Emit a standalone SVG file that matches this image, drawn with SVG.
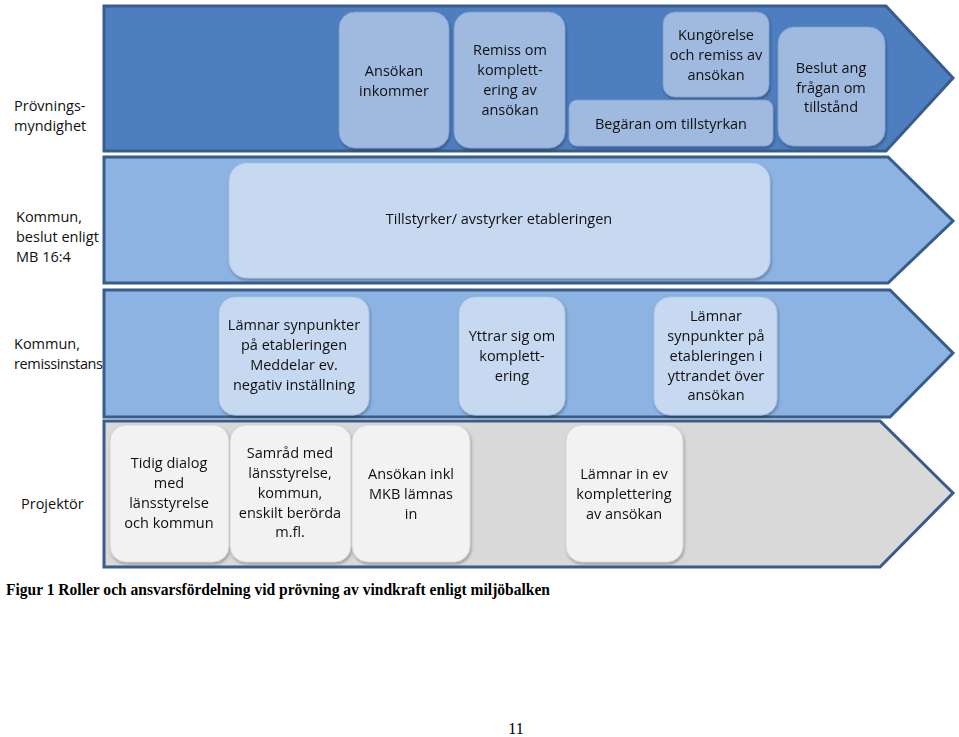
<svg xmlns="http://www.w3.org/2000/svg" width="959" height="737" viewBox="0 0 959 737">
<style>
.lane{stroke:#385d8a;stroke-width:3;stroke-linejoin:miter}
.t{font-family:"Open Sans","Noto Sans",sans-serif;font-size:14.5px;fill:#111;text-anchor:middle}
.lbl{font-family:"Open Sans","Noto Sans",sans-serif;font-size:14.5px;fill:#111}
.b1{fill:#9fb9df;stroke:#7f9fcf;stroke-width:0.8}
.b2{fill:#c6d9f1;stroke:#a9c3e6;stroke-width:0.8}
.b4{fill:#f2f2f2;stroke:#d0d0d0;stroke-width:0.8}
.cap{font-family:"Liberation Serif","Times New Roman",serif;font-weight:bold;font-size:16px;fill:#000}
</style>
<defs>
<filter id="sh" x="-10%" y="-10%" width="130%" height="130%">
<feDropShadow dx="1" dy="2" stdDeviation="1.5" flood-color="#000" flood-opacity="0.3"/>
</filter>
</defs>
<rect width="959" height="737" fill="#fff"/>

<g id="lanes">
<g id="lane1"><polygon class="lane" fill="#4d7ec0" points="104,6 886,6 953,78 886,151 104,151"/></g>
<g id="lane2"><polygon class="lane" fill="#8db3e2" points="104,157 888,157 953,221 888,283 104,283"/></g>
<g id="lane3"><polygon class="lane" fill="#8db3e2" points="104,290 890,290 953,353 890,417 104,417"/></g>
<g id="lane4"><polygon class="lane" fill="#d9d9d9" points="104,421 880,421 953,493 880,567 104,567"/></g>
</g>

<g id="labels">
<text class="lbl" x="14" y="111">Prövnings-</text>
<text class="lbl" x="14" y="131">myndighet</text>
<text class="lbl" x="16" y="222">Kommun,</text>
<text class="lbl" x="16" y="242">beslut enligt</text>
<text class="lbl" x="16" y="262">MB 16:4</text>
<text class="lbl" x="14" y="349">Kommun,</text>
<text class="lbl" x="14" y="369" textLength="89">remissinstans</text>
<text class="lbl" x="21" y="509">Projektör</text>
</g>

<g id="n1" filter="url(#sh)"><rect class="b1" x="339" y="12" width="110" height="136" rx="16"/>
<text class="t" x="394" y="76">Ansökan</text><text class="t" x="394" y="96">inkommer</text></g>
<g id="n2" filter="url(#sh)"><rect class="b1" x="454" y="12" width="111" height="136" rx="16"/>
<text class="t" x="510" y="55">Remiss om</text><text class="t" x="510" y="75">komplett-</text><text class="t" x="510" y="95">ering av</text><text class="t" x="510" y="115">ansökan</text></g>
<g id="n3" filter="url(#sh)"><rect class="b1" x="663" y="12" width="106" height="85" rx="12"/>
<text class="t" x="716" y="40">Kungörelse</text><text class="t" x="716" y="60">och remiss av</text><text class="t" x="716" y="80">ansökan</text></g>
<g id="n4" filter="url(#sh)"><rect class="b1" x="569" y="100" width="204" height="46" rx="8"/>
<text class="t" x="671" y="129">Begäran om tillstyrkan</text></g>
<g id="n5" filter="url(#sh)"><rect class="b1" x="778" y="27" width="107" height="119" rx="16"/>
<text class="t" x="831" y="73">Beslut ang</text><text class="t" x="831" y="93">frågan om</text><text class="t" x="831" y="112">tillstånd</text></g>

<g id="n6" filter="url(#sh)"><rect class="b2" x="229" y="163" width="541" height="115" rx="18"/>
<text class="t" x="499" y="224">Tillstyrker/ avstyrker etableringen</text></g>

<g id="n7" filter="url(#sh)"><rect class="b2" x="219" y="297" width="150" height="118" rx="16"/>
<text class="t" x="294" y="330">Lämnar synpunkter</text><text class="t" x="294" y="350">på etableringen</text><text class="t" x="294" y="370">Meddelar ev.</text><text class="t" x="294" y="390">negativ inställning</text></g>
<g id="n8" filter="url(#sh)"><rect class="b2" x="459" y="297" width="106" height="118" rx="16"/>
<text class="t" x="512" y="341">Yttrar sig om</text><text class="t" x="512" y="361">komplett-</text><text class="t" x="512" y="381">ering</text></g>
<g id="n9" filter="url(#sh)"><rect class="b2" x="654" y="297" width="123" height="118" rx="16"/>
<text class="t" x="716" y="321">Lämnar</text><text class="t" x="716" y="341">synpunkter  på</text><text class="t" x="716" y="361">etableringen i</text><text class="t" x="716" y="381">yttrandet över</text><text class="t" x="716" y="400">ansökan</text></g>

<g id="n10" filter="url(#sh)"><rect class="b4" x="110" y="425" width="119" height="137" rx="16"/>
<text class="t" x="169" y="468">Tidig dialog</text><text class="t" x="169" y="488">med</text><text class="t" x="169" y="508">länsstyrelse</text><text class="t" x="169" y="528">och kommun</text></g>
<g id="n11" filter="url(#sh)"><rect class="b4" x="230" y="425" width="121" height="137" rx="16"/>
<text class="t" x="290" y="458">Samråd med</text><text class="t" x="290" y="478">länsstyrelse,</text><text class="t" x="290" y="498">kommun,</text><text class="t" x="290" y="518">enskilt berörda</text><text class="t" x="290" y="537">m.fl.</text></g>
<g id="n12" filter="url(#sh)"><rect class="b4" x="352" y="425" width="118" height="137" rx="16"/>
<text class="t" x="411" y="479">Ansökan inkl</text><text class="t" x="411" y="499">MKB lämnas</text><text class="t" x="411" y="519">in</text></g>
<g id="n13" filter="url(#sh)"><rect class="b4" x="566" y="425" width="117" height="137" rx="16"/>
<text class="t" x="624" y="479">Lämnar in  ev</text><text class="t" x="624" y="499">komplettering</text><text class="t" x="624" y="519">av ansökan</text></g>

<text class="cap" x="6" y="595" textLength="544" lengthAdjust="spacingAndGlyphs">Figur 1 Roller och ansvarsfördelning vid prövning av vindkraft enligt miljöbalken</text>
<text x="516" y="734" font-family="Liberation Serif,serif" font-size="16" text-anchor="middle">11</text>
</svg>
